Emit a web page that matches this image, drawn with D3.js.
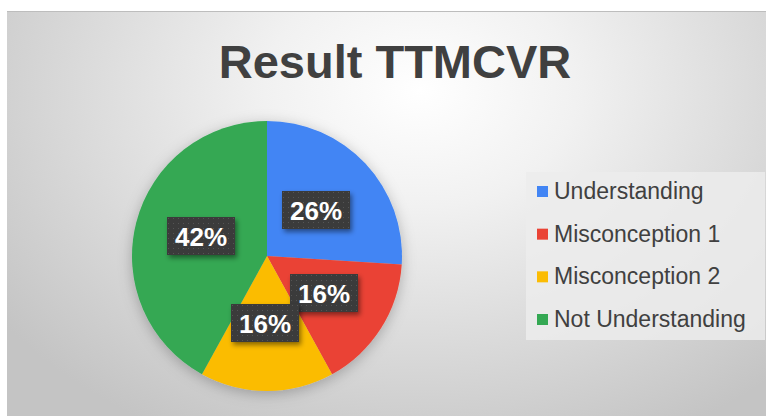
<!DOCTYPE html>
<html><head><meta charset="utf-8">
<script src="https://cdn.jsdelivr.net/npm/d3@7"></script>
<style>html,body{margin:0;padding:0;background:#fff;}svg{display:block;}</style>
</head><body>
<svg id="chart" width="769" height="416"></svg>
<script>
const title = "Result TTMCVR";
const categories = ["Understanding", "Misconception 1", "Misconception 2", "Not Understanding"];
const values = [26, 16, 16, 42];
const colors = ["#4285F4", "#EA4335", "#FBBC04", "#34A853"];
// label box centres (relative to pie centre)
const labelOffsets = [[49, -46], [57, 37], [-2, 67], [-66, -20]];

const svg = d3.select("#chart");
const W = 769, H = 416;
const defs = svg.append("defs");

const bg = defs.append("radialGradient").attr("id", "bg")
  .attr("gradientUnits", "userSpaceOnUse")
  .attr("cx", 420).attr("cy", 90).attr("r", 520)
  .attr("gradientTransform", "translate(420,90) scale(1,0.75) translate(-420,-90)");
bg.append("stop").attr("offset", "0%").attr("stop-color", "#ffffff");
bg.append("stop").attr("offset", "30%").attr("stop-color", "#f1f1f1");
bg.append("stop").attr("offset", "100%").attr("stop-color", "#c4c4c4");

const pat = defs.append("pattern").attr("id", "dots")
  .attr("patternUnits", "userSpaceOnUse").attr("width", 5).attr("height", 5);
pat.append("rect").attr("width", 5).attr("height", 5).attr("fill", "#3a3a3a");
pat.append("rect").attr("x", 2).attr("y", 2).attr("width", 1).attr("height", 1).attr("fill", "#555555");

const sh = defs.append("filter").attr("id", "shadow").attr("x", "-30%").attr("y", "-30%").attr("width", "160%").attr("height", "160%");
sh.append("feDropShadow").attr("dx", 2).attr("dy", 3).attr("stdDeviation", 2.5).attr("flood-color", "#000").attr("flood-opacity", 0.45);

const pieSh = defs.append("filter").attr("id", "pieshadow").attr("x", "-20%").attr("y", "-20%").attr("width", "140%").attr("height", "140%");
pieSh.append("feDropShadow").attr("dx", 0).attr("dy", 3).attr("stdDeviation", 7).attr("flood-color", "#000").attr("flood-opacity", 0.25);

svg.append("rect").attr("x", 7).attr("y", 11).attr("width", W - 10).attr("height", H - 11)
  .attr("fill", "url(#bg)");
svg.append("line").attr("x1", 7).attr("x2", W - 3).attr("y1", 11.5).attr("y2", 11.5)
  .attr("stroke", "#bdbdbd").attr("stroke-width", 1);

svg.append("text").attr("x", 395).attr("y", 78).attr("text-anchor", "middle")
  .attr("font-family", "Liberation Sans, Arial, sans-serif").attr("font-weight", "bold")
  .attr("font-size", 47).attr("fill", "#404040").text(title);

const cx = 267, cy = 256, r = 135;
const pie = d3.pie().sort(null).value(d => d);
const arcs = pie(values);
const arc = d3.arc().innerRadius(0).outerRadius(r);

const g = svg.append("g").attr("transform", `translate(${cx},${cy})`);
g.append("g").attr("filter", "url(#pieshadow)").selectAll("path").data(arcs).join("path")
  .attr("d", arc).attr("fill", (d, i) => colors[i]);

const total = d3.sum(values);
const fmt = d => Math.round(d / total * 100) + "%";
const order = [0, 3, 1, 2];
const lab = g.append("g").selectAll("g").data(order).join("g")
  .attr("transform", i => `translate(${labelOffsets[i][0]},${labelOffsets[i][1]})`);
lab.append("rect").attr("x", -34).attr("y", -19).attr("width", 68).attr("height", 38)
  .attr("fill", "url(#dots)").attr("filter", "url(#shadow)");
lab.append("text").attr("text-anchor", "middle").attr("y", 9.5)
  .attr("font-family", "Liberation Sans, Arial, sans-serif").attr("font-weight", "bold")
  .attr("font-size", 26).attr("fill", "#ffffff").text(i => fmt(values[i]));

const leg = svg.append("g");
leg.append("rect").attr("x", 526).attr("y", 172).attr("width", 239).attr("height", 168)
  .attr("fill", "#ececec").attr("opacity", 0.85);
const rowY = d3.scalePoint().domain(categories).range([199, 327]);
const item = leg.selectAll("g.it").data(categories).join("g").attr("class", "it")
  .attr("transform", d => `translate(0,${rowY(d)})`);
item.append("rect").attr("x", 537).attr("y", -13).attr("width", 11).attr("height", 11)
  .attr("fill", (d, i) => colors[i]);
item.append("text").attr("x", 554).attr("y", 0)
  .attr("font-family", "Liberation Sans, Arial, sans-serif").attr("font-size", 23)
  .attr("fill", "#404040").text(d => d);
</script>
</body></html>
